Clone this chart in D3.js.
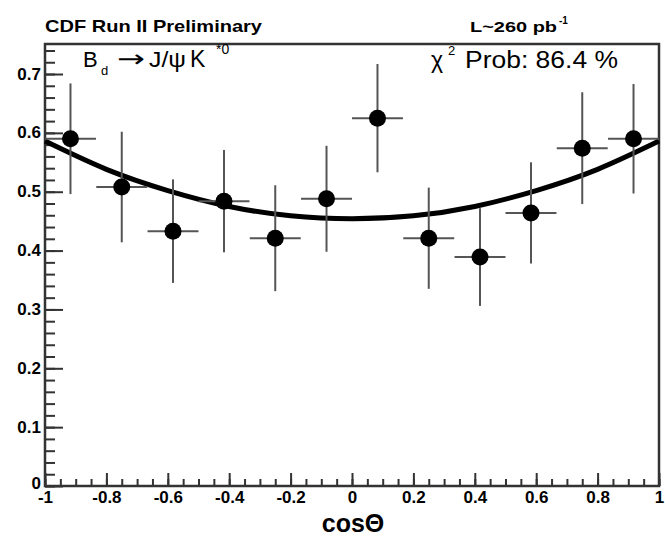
<!DOCTYPE html>
<html>
<head>
<meta charset="utf-8">
<script src="https://cdn.jsdelivr.net/npm/d3@7/dist/d3.min.js"></script>
<style>
  html, body { margin: 0; padding: 0; background: #fff; }
  svg { display: block; font-family: "Liberation Sans", Arial, Helvetica, sans-serif; }
</style>
</head>
<body>
<svg id="chart" width="665" height="537"></svg>
<script>
// ---- data ----
const binCenters = [-0.917, -0.75, -0.583, -0.417, -0.25, -0.083, 0.083, 0.25, 0.417, 0.583, 0.75, 0.917];
const binHalfWidth = [0.083, 0.083, 0.083, 0.083, 0.083, 0.083, 0.083, 0.083, 0.083, 0.083, 0.083, 0.083];
const yValues = [0.590, 0.508, 0.433, 0.484, 0.421, 0.488, 0.625, 0.421, 0.389, 0.464, 0.574, 0.590];
const yErrors = [0.094, 0.094, 0.088, 0.087, 0.090, 0.090, 0.092, 0.086, 0.083, 0.086, 0.095, 0.093];
// fit curve
const fitX = [-1, -0.8, -0.6, -0.4, -0.2, 0, 0.2, 0.4, 0.6, 0.8, 1];
const fitY = [0.586, 0.538, 0.502, 0.475, 0.459, 0.454, 0.459, 0.475, 0.502, 0.538, 0.586];
const xTickLabels = [-1, -0.8, -0.6, -0.4, -0.2, 0, 0.2, 0.4, 0.6, 0.8, 1];
const yTickLabels = [0, 0.1, 0.2, 0.3, 0.4, 0.5, 0.6, 0.7];
const xMinorTicks = d3.range(-20, 21).map(i => i * 0.05);
const yMinorTicks = d3.range(0, 38).map(i => i * 0.02);

// ---- layout ----
const L = 45, R = 659, T = 44, B = 486;
const svg = d3.select("#chart");
const x = d3.scaleLinear().domain([-1, 1]).range([L, R]);
const y = d3.scaleLinear().domain([0, 0.751]).range([B, T]);
const axisColor = "#333";

// minor ticks
svg.append("g").attr("transform", `translate(0,${B})`)
  .call(d3.axisBottom(x).tickValues(xMinorTicks).tickSize(-7).tickFormat(""))
  .call(g => g.select(".domain").remove());
svg.append("g").attr("transform", `translate(${L},0)`)
  .call(d3.axisLeft(y).tickValues(yMinorTicks).tickSize(-10).tickFormat(""))
  .call(g => g.select(".domain").remove());

// major ticks + labels
const fmt = v => (v === 0 ? "0" : String(v));
svg.append("g").attr("class", "xaxis").attr("transform", `translate(0,${B})`)
  .call(d3.axisBottom(x).tickValues(xTickLabels).tickSize(-13).tickPadding(5).tickFormat(fmt))
  .call(g => g.select(".domain").remove());
svg.append("g").attr("class", "yaxis").attr("transform", `translate(${L},0)`)
  .call(d3.axisLeft(y).tickValues(yTickLabels).tickSize(-18).tickPadding(4).tickFormat(fmt))
  .call(g => g.select(".domain").remove());

svg.selectAll(".tick line").attr("stroke", axisColor).attr("stroke-width", 2);
svg.selectAll(".tick text").attr("fill", "#000").attr("font-size", 17).attr("font-weight", "bold")
  .attr("font-family", "Liberation Sans, Arial, sans-serif");
svg.selectAll(".yaxis .tick text").attr("dy", "0.3em");
svg.selectAll(".yaxis .tick").filter(d => d === 0).select("text").attr("dy", "0.12em");

// frame
svg.append("rect").attr("x", L).attr("y", T).attr("width", R - L).attr("height", B - T)
  .attr("fill", "none").attr("stroke", axisColor).attr("stroke-width", 2.5);

// fit curve
const line = d3.line().x((d, i) => x(fitX[i])).y(d => y(d)).curve(d3.curveNatural);
svg.append("path").attr("d", line(fitY)).attr("fill", "none")
  .attr("stroke", "#000").attr("stroke-width", 5);

// error bars
const pts = binCenters.map((c, i) => ({ x: c, hw: binHalfWidth[i], y: yValues[i], e: yErrors[i] }));
const eg = svg.append("g").attr("stroke", "#555").attr("stroke-width", 2);
eg.selectAll("line.v").data(pts).join("line").attr("class", "v")
  .attr("x1", d => x(d.x)).attr("x2", d => x(d.x))
  .attr("y1", d => y(d.y - d.e)).attr("y2", d => y(d.y + d.e));
eg.selectAll("line.h").data(pts).join("line").attr("class", "h")
  .attr("x1", d => x(d.x - d.hw)).attr("x2", d => x(d.x + d.hw))
  .attr("y1", d => y(d.y)).attr("y2", d => y(d.y));
// markers
svg.append("g").selectAll("circle").data(pts).join("circle")
  .attr("cx", d => x(d.x)).attr("cy", d => y(d.y)).attr("r", 8.5).attr("fill", "#000");

// header texts
svg.append("text").attr("x", 45).attr("y", 32).attr("font-size", 17).attr("font-weight", "bold")
  .attr("textLength", 217).attr("lengthAdjust", "spacingAndGlyphs").text("CDF Run II Preliminary");
const lum = svg.append("text").attr("y", 32).attr("font-size", 15).attr("font-weight", "bold");
lum.append("tspan").attr("x", 470).attr("textLength", 87).attr("lengthAdjust", "spacingAndGlyphs").text("L~260 pb");
lum.append("tspan").attr("x", 559).attr("y", 24).attr("font-size", 10).text("-1");

// decay label
const dec = svg.append("text").attr("y", 67).attr("font-size", 22);
dec.append("tspan").attr("x", 83).text("B");
dec.append("tspan").attr("x", 101).attr("y", 75).attr("font-size", 13).text("d");
dec.append("tspan").attr("x", 117).attr("y", 67).attr("font-size", 24)
  .attr("font-family", "DejaVu Sans").attr("textLength", 28).attr("lengthAdjust", "spacingAndGlyphs").text("\u2192");
dec.append("tspan").attr("x", 149).attr("y", 67).attr("textLength", 37).attr("lengthAdjust", "spacingAndGlyphs").text("J/\u03C8");
dec.append("tspan").attr("x", 190).attr("y", 67).attr("font-size", 23).text("K");
dec.append("tspan").attr("x", 216).attr("y", 54).attr("font-size", 14).text("*0");

// chi2 label
const chi = svg.append("text").attr("y", 68).attr("font-size", 23);
chi.append("tspan").attr("x", 431).text("\u03C7");
chi.append("tspan").attr("x", 448).attr("y", 55).attr("font-size", 13).text("2");
chi.append("tspan").attr("x", 465).attr("y", 68).attr("textLength", 153).attr("lengthAdjust", "spacingAndGlyphs").text("Prob: 86.4 %");

// x axis title
svg.append("text").attr("x", 353).attr("y", 532).attr("text-anchor", "middle")
  .attr("font-size", 25).attr("font-weight", "bold").text("cos\u0398");
</script>
</body>
</html>
